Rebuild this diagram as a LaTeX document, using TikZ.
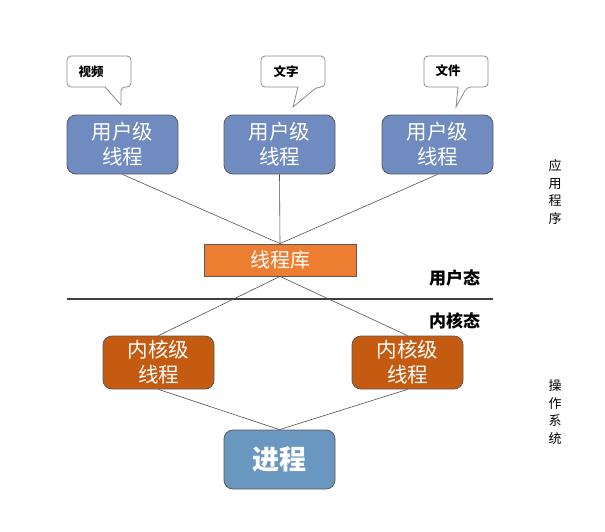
\documentclass[tikz,border=0pt]{standalone}
\usepackage{fontspec}
\setmainfont{Noto Sans CJK SC}
\begin{document}
\begin{tikzpicture}[x=1pt,y=-1pt,
  box/.style={draw=boxline,line width=0.8pt,rounded corners=9pt,minimum width=111pt,inner sep=0pt,align=center,text=white,font=\fontsize{20.5}{25}\selectfont},
  userbox/.style={box,fill=userblue,minimum height=59pt},
  kernbox/.style={box,fill=kernorange,minimum height=53pt},
  conn/.style={draw=connline,line width=0.6pt},
  callout/.style={draw=calloutline,line width=0.8pt,fill=white,rounded corners=4pt},
  ctext/.style={font=\bfseries\fontsize{12.5}{14}\selectfont,inner sep=0pt},
  state/.style={font=\bfseries\fontsize{17}{20}\selectfont,inner sep=0pt},
  side/.style={font=\fontsize{13}{17.5}\selectfont,align=center,inner sep=0pt}
]
\definecolor{userblue}{RGB}{111,139,192}
\definecolor{kernorange}{RGB}{197,90,17}
\definecolor{libor}{RGB}{237,125,49}
\definecolor{procblue}{RGB}{106,151,192}
\definecolor{boxline}{RGB}{90,90,90}
\definecolor{connline}{RGB}{80,80,80}
\definecolor{calloutline}{RGB}{140,140,140}
\useasboundingbox (0,0) rectangle (605,531);

% callouts
\draw[callout] (67,56) -- (131,56) -- (131,87) -- (121,87) [sharp corners] -- (121,105) -- (105,87) [rounded corners=4pt] -- (67,87) -- cycle;
\draw[callout] (261,56) -- (325,56) -- (325,87) -- (317,87) [sharp corners] -- (293,107) -- (298,87) [rounded corners=4pt] -- (261,87) -- cycle;
\draw[callout] (424,56) -- (488,56) -- (488,87) -- (467,87) [sharp corners] -- (456,107) -- (458,87) [rounded corners=4pt] -- (424,87) -- cycle;
\node[ctext] (c1) at (91,72) {视频};
\node[ctext] (c2) at (286,72) {文字};
\node[ctext] (c3) at (448,71) {文件};

% user-level threads
\node[userbox] (u1) at (122.5,144.5) {用户级\\线程};
\node[userbox] (u2) at (279.5,144.5) {用户级\\线程};
\node[userbox] (u3) at (437.5,144.5) {用户级\\线程};

% thread library
\node[draw=boxline,line width=0.8pt,fill=libor,minimum width=152pt,minimum height=32pt,inner sep=0pt,text=white,font=\fontsize{20}{24}\selectfont] (lib) at (280,260) {线程库};

\draw[conn] (u1.south) -- (lib.north);
\draw[conn] (u2.south) -- (lib.north);
\draw[conn] (u3.south) -- (lib.north);

% divider
\coordinate (dl) at (67,299);
\coordinate (dr) at (493,299);
\draw[draw=black!75,line width=1.6pt] (dl) -- (dr);
\node[state] (us) at (454.5,277.5) {用户态};
\node[state] (ks) at (454.5,320.5) {内核态};

% kernel-level threads
\node[kernbox] (k1) at (158.5,362.5) {内核级\\线程};
\node[kernbox] (k2) at (407.5,362.5) {内核级\\线程};
\draw[conn] (lib.south) -- (k1.north);
\draw[conn] (lib.south) -- (k2.north);

% process
\node[box,fill=procblue,minimum height=59pt,font=\bfseries\fontsize{27}{32}\selectfont] (p) at (279.5,459.5) {进程};
\draw[conn] (k1.south) -- (p.north);
\draw[conn] (k2.south) -- (p.north);

% side labels
\node[side] (app) at (555,192) {应\\用\\程\\序};
\node[side] (os) at (555,412) {操\\作\\系\\统};
\end{tikzpicture}
\end{document}
